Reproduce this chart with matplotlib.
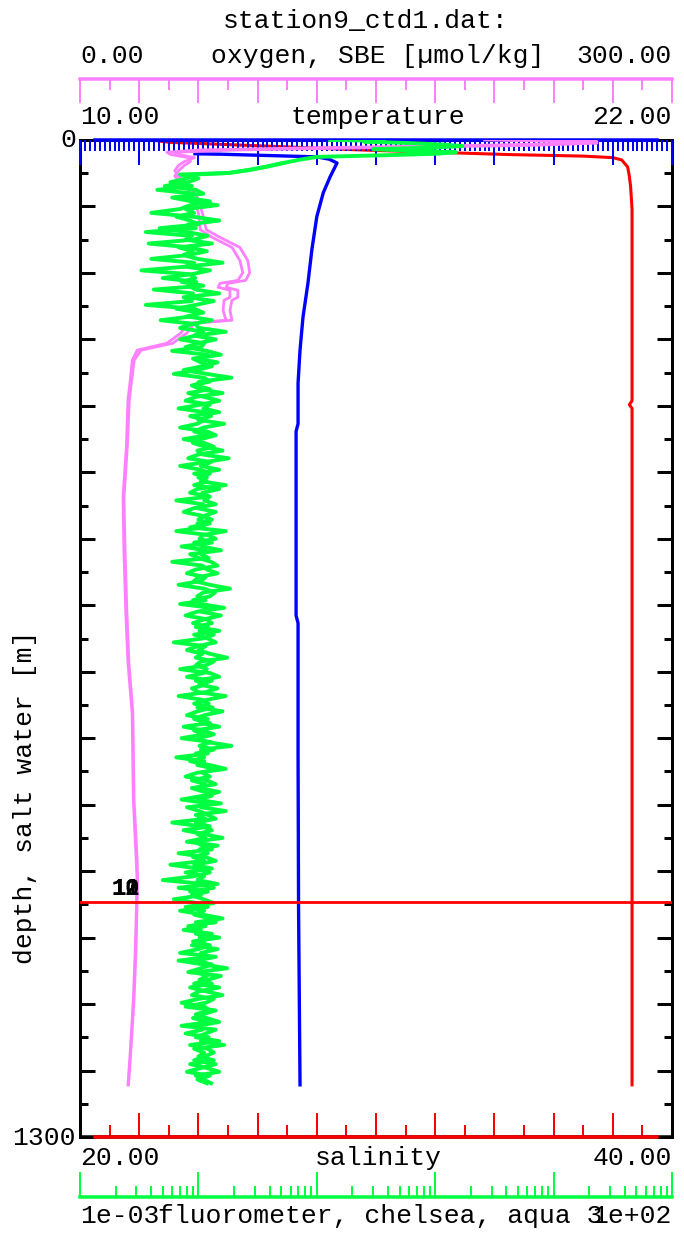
import numpy as np
import matplotlib
matplotlib.use('Agg')
import matplotlib.pyplot as plt
from matplotlib.ticker import FixedLocator, MultipleLocator, LogLocator, NullFormatter

plt.rcParams['font.family'] = ['Liberation Mono', 'DejaVu Sans Mono']

# ---------------- data ----------------
title = 'station9_ctd1.dat:'
oxy_label = 'oxygen, SBE [\u00b5mol/kg]'
temp_label = 'temperature'
sal_label = 'salinity'
fl_label = 'fluorometer, chelsea, aqua 3'
depth_label = 'depth, salt water [m]'
oxy_range = [0.0, 300.0]
temp_range = [10.0, 22.0]
sal_range = [20.0, 40.0]
fl_range = [1e-3, 1e2]
depth_range = [0, 1300]

sal_depth = [0, 3, 6, 9, 13, 16, 19, 21, 23, 26, 35, 45, 60, 90, 200, 340, 345, 350, 600, 900, 1232]
sal_vals = [22.4, 23.0, 25.0, 27.0, 29.5, 32.0, 34.5, 37.0, 38.0, 38.3, 38.5, 38.55, 38.6, 38.65,
            38.65, 38.65, 38.56, 38.65, 38.65, 38.65, 38.65]

temp_depth = [18, 18.5, 22, 25, 30, 48, 69, 100, 143, 187, 231, 274, 317, 370, 380, 620, 630, 800, 1000, 1232]
temp_vals = [12.33, 12.84, 14.8, 15.05, 15.21, 15.07, 14.93, 14.80, 14.70, 14.62, 14.52, 14.46, 14.42,
             14.42, 14.38, 14.38, 14.42, 14.42, 14.43, 14.46]

oxy_depth = [0, 2, 4, 7, 10, 13, 16, 19, 23, 28, 33, 40, 47, 55, 65, 78, 95, 117, 127, 140, 157, 173,
             183, 187, 192, 196, 205, 209, 222, 235, 239, 252, 265, 274, 287, 317, 339, 400, 466, 531,
             617, 682, 747, 860, 940, 965, 1056, 1121, 1187, 1232]
oxy_down = [205, 262, 258, 200, 120, 60, 44, 46, 55, 56, 53, 50, 48, 51, 55, 58, 60, 61, 67, 77, 81, 82.5,
            80, 71, 70, 76, 76, 73, 72.5, 74, 55, 51, 44, 29, 26.5, 25.3, 24.3, 23.5, 21.8, 22.2,
            23.2, 24.3, 26.4, 27, 28.5, 28.9, 28, 27, 25.5, 24.3]
oxy_up = [215, 255, 262, 230, 150, 80, 48, 50, 58, 53, 50, 48, 50, 53, 57, 60, 62, 64, 71, 81, 85, 86,
          84, 75, 74, 80, 80, 77, 76, 77, 58, 54, 47, 31, 27.5, 26, 25, 24, 22.3, 22.8,
          23.8, 24.8, 26.8, 27.4, 29, 29.2, 28.4, 27.4, 25.8, 24.6]

fl_surf_depth = [0, 1, 2, 4, 6, 8, 10, 12, 14, 16, 18, 20, 22, 26, 30, 35, 39, 43]
fl_surf_vals = [0.13, 0.37, 0.25, 0.6, 1.2, 1.7, 0.9, 0.3, 0.6, 1.5, 1.0, 0.35, 0.10, 0.07, 0.052,
                0.037, 0.027, 0.018]
fl_bin_start = 45   # first 5 m bin
fl_bin_step = 5
fl_down = [
    0.0095, 0.0080, 0.0058, 0.0088, 0.0045, 0.0092, 0.0078, 0.0125, 0.0085, 0.0070,
    0.0040, 0.0090, 0.0150, 0.0082, 0.0095, 0.0036, 0.0088, 0.0078, 0.0130, 0.0068,
    0.0090, 0.0075, 0.0098, 0.0160, 0.0080, 0.0033, 0.0085, 0.0094, 0.0072, 0.0110,
    0.0042, 0.0090, 0.0082, 0.0135, 0.0095, 0.0065, 0.0102, 0.0088, 0.0048, 0.0095,
    0.0100, 0.0170, 0.0095, 0.0070, 0.0112, 0.0105, 0.0060, 0.0120, 0.0098, 0.0145,
    0.0108, 0.0075, 0.0118, 0.0190, 0.0102, 0.0095, 0.0125, 0.0082, 0.0112, 0.0150,
    0.0105, 0.0068, 0.0115, 0.0128, 0.0100, 0.0165, 0.0110, 0.0092, 0.0120, 0.0075,
    0.0112, 0.0135, 0.0098, 0.0108, 0.0180, 0.0115, 0.0070, 0.0105, 0.0125, 0.0100,
    0.0118, 0.0092, 0.0150, 0.0108, 0.0122, 0.0065, 0.0110, 0.0098, 0.0140, 0.0112,
    0.0100, 0.0125, 0.0085, 0.0170, 0.0110, 0.0102, 0.0130, 0.0072, 0.0115, 0.0105,
    0.0122, 0.0060, 0.0108, 0.0118, 0.0145, 0.0100, 0.0092, 0.0125, 0.0185, 0.0110,
    0.0098, 0.0115, 0.0070, 0.0128, 0.0105, 0.0155, 0.0112, 0.0090, 0.0120, 0.0102,
    0.0135, 0.0108, 0.0062, 0.0115, 0.0100, 0.0125, 0.0175, 0.0105, 0.0095, 0.0118,
    0.0110, 0.0080, 0.0130, 0.0102, 0.0145, 0.0115, 0.0068, 0.0108, 0.0122, 0.0098,
    0.0160, 0.0112, 0.0092, 0.0125, 0.0075, 0.0110, 0.0135, 0.0100, 0.0118, 0.0190,
    0.0105, 0.0120, 0.0065, 0.0112, 0.0098, 0.0140, 0.0108, 0.0125, 0.0088, 0.0115,
    0.0100, 0.0150, 0.0110, 0.0072, 0.0122, 0.0105, 0.0170, 0.0095, 0.0115, 0.0060,
    0.0108, 0.0130, 0.0098, 0.0115, 0.0080, 0.0145, 0.0102, 0.0120, 0.0090, 0.0112,
    0.0058, 0.0100, 0.0125, 0.0092, 0.0050, 0.0110, 0.0135, 0.0085, 0.0105, 0.0062,
    0.0098, 0.0120, 0.0070, 0.0108, 0.0160, 0.0095, 0.0115, 0.0075, 0.0130, 0.0102,
    0.0112, 0.0088, 0.0145, 0.0105, 0.0122, 0.0068, 0.0110, 0.0175, 0.0098, 0.0118,
    0.0102, 0.0130, 0.0085, 0.0115, 0.0160, 0.0100, 0.0072, 0.0112, 0.0125, 0.0095,
    0.0118, 0.0150, 0.0098, 0.0108, 0.0078, 0.0122, 0.0105, 0.0165, 0.0092, 0.0112,
    0.0100, 0.0135, 0.0085, 0.0118, 0.0150, 0.0095, 0.0110, 0.0128,
]
fl_up = [
    0.0070, 0.0100, 0.0082, 0.0052, 0.0095, 0.0110, 0.0060, 0.0088, 0.0145, 0.0078,
    0.0092, 0.0065, 0.0085, 0.0100, 0.0047, 0.0080, 0.0120, 0.0090, 0.0038, 0.0085,
    0.0118, 0.0082, 0.0040, 0.0092, 0.0078, 0.0125, 0.0088, 0.0050, 0.0096, 0.0082,
    0.0095, 0.0150, 0.0075, 0.0088, 0.0036, 0.0092, 0.0110, 0.0080, 0.0130, 0.0088,
    0.0070, 0.0110, 0.0092, 0.0140, 0.0100, 0.0078, 0.0118, 0.0155, 0.0090, 0.0105,
    0.0130, 0.0098, 0.0062, 0.0112, 0.0125, 0.0088, 0.0105, 0.0160, 0.0095, 0.0078,
    0.0125, 0.0110, 0.0150, 0.0085, 0.0112, 0.0098, 0.0070, 0.0118, 0.0140, 0.0105,
    0.0090, 0.0115, 0.0160, 0.0100, 0.0082, 0.0128, 0.0105, 0.0150, 0.0092, 0.0118,
    0.0105, 0.0170, 0.0098, 0.0085, 0.0125, 0.0112, 0.0140, 0.0092, 0.0075, 0.0108,
    0.0130, 0.0098, 0.0112, 0.0065, 0.0120, 0.0140, 0.0092, 0.0108, 0.0155, 0.0085,
    0.0100, 0.0128, 0.0145, 0.0095, 0.0080, 0.0115, 0.0105, 0.0068, 0.0112, 0.0138,
    0.0125, 0.0090, 0.0105, 0.0165, 0.0098, 0.0078, 0.0118, 0.0130, 0.0095, 0.0150,
    0.0092, 0.0120, 0.0140, 0.0098, 0.0080, 0.0108, 0.0095, 0.0135, 0.0115, 0.0070,
    0.0125, 0.0150, 0.0095, 0.0115, 0.0088, 0.0100, 0.0170, 0.0118, 0.0092, 0.0132,
    0.0098, 0.0080, 0.0120, 0.0105, 0.0150, 0.0092, 0.0112, 0.0072, 0.0128, 0.0102,
    0.0135, 0.0095, 0.0112, 0.0085, 0.0125, 0.0170, 0.0098, 0.0078, 0.0118, 0.0140,
    0.0088, 0.0112, 0.0130, 0.0098, 0.0155, 0.0080, 0.0102, 0.0120, 0.0140, 0.0095,
    0.0125, 0.0075, 0.0112, 0.0160, 0.0092, 0.0108, 0.0130, 0.0068, 0.0115, 0.0140,
    0.0092, 0.0130, 0.0078, 0.0112, 0.0098, 0.0145, 0.0068, 0.0120, 0.0088, 0.0110,
    0.0135, 0.0078, 0.0112, 0.0092, 0.0125, 0.0140, 0.0082, 0.0105, 0.0095, 0.0150,
    0.0090, 0.0125, 0.0100, 0.0070, 0.0140, 0.0095, 0.0130, 0.0105, 0.0082, 0.0155,
    0.0120, 0.0092, 0.0150, 0.0102, 0.0088, 0.0135, 0.0115, 0.0078, 0.0140, 0.0108,
    0.0090, 0.0125, 0.0072, 0.0140, 0.0115, 0.0095, 0.0150, 0.0085, 0.0120, 0.0135,
    0.0112, 0.0092, 0.0140, 0.0105, 0.0080, 0.0125, 0.0098, 0.0118,
]

bottle_depth = 994
bottle_labels = ['10', '11', '12']

# ---------------- styles ----------------
RED = '#ff0000'
BLUE = '#0000ff'
PINK = '#ff80ff'
GREEN = '#00ff40'
W, H = 684, 1233
PX = 0.72  # points per pixel at dpi 100
FS = 19

fig = plt.figure(figsize=(W / 100, H / 100), dpi=100)
L, R, T, B = 80, 672, 140, 1137
ax = fig.add_axes([L / W, 1 - B / H, (R - L) / W, (B - T) / H])
axt = ax.twiny()
axo = ax.twiny()
axf = ax.twiny()

# main axes: salinity (bottom) + depth
ax.set_xlim(*sal_range)
ax.set_ylim(depth_range[1], depth_range[0])
ax.plot(sal_vals, sal_depth, color=RED, lw=2.2, zorder=2)
ax.xaxis.set_ticks_position('bottom')
ax.xaxis.set_major_locator(MultipleLocator(2))
ax.xaxis.set_minor_locator(MultipleLocator(1))
ax.tick_params(axis='x', which='major', direction='in', length=24 * PX, width=2 * PX,
               color=RED, bottom=True, top=False, labelbottom=False, labeltop=False)
ax.tick_params(axis='x', which='minor', direction='in', length=12 * PX, width=2 * PX,
               color=RED, bottom=True, top=False)
ax.yaxis.set_major_locator(MultipleLocator(1300 / 15))
ax.yaxis.set_minor_locator(MultipleLocator(1300 / 30))
ax.tick_params(axis='y', which='major', direction='in', length=15 * PX, width=3 * PX,
               color='black', left=True, right=True, labelleft=False, labelright=False)
ax.tick_params(axis='y', which='minor', direction='in', length=8 * PX, width=3 * PX,
               color='black', left=True, right=True)
for s in ['left', 'right', 'top']:
    ax.spines[s].set_color('black')
    ax.spines[s].set_linewidth(3 * PX)
ax.spines['bottom'].set_color(RED)
ax.spines['bottom'].set_linewidth(3.5 * PX)
ax.spines['bottom'].set_bounds(20.5, 39.5)
ax.plot([0, 1], [0, 0], transform=ax.transAxes, color='black', lw=3.5 * PX,
        clip_on=False, zorder=2.4, solid_capstyle='butt')

# temperature (top)
axt.set_xlim(*temp_range)
axt.plot(temp_vals, temp_depth, color=BLUE, lw=2.4)
axt.xaxis.set_ticks_position('top')
axt.xaxis.set_major_locator(FixedLocator(10 + 1.2 * np.arange(11)))
axt.xaxis.set_minor_locator(FixedLocator(10 + 0.1 * np.arange(121)))
axt.tick_params(axis='x', which='major', direction='in', length=25 * PX, width=2 * PX,
                color=BLUE, top=True, bottom=False, labeltop=False, labelbottom=False)
axt.tick_params(axis='x', which='minor', direction='in', length=11 * PX, width=2 * PX,
                color=BLUE, top=True, bottom=False)
for s in ['left', 'right', 'bottom']:
    axt.spines[s].set_visible(False)
axt.spines['top'].set_color(BLUE)
axt.spines['top'].set_linewidth(3.5 * PX)
axt.spines['top'].set_bounds(10.3, 21.7)

# oxygen (top, offset)
axo.set_xlim(*oxy_range)
axo.plot(oxy_down, oxy_depth, color=PINK, lw=2.0)
axo.plot(oxy_up, oxy_depth, color=PINK, lw=2.0)
axo.xaxis.set_ticks_position('top')
axo.spines['top'].set_position(('outward', 61 * PX))
axo.xaxis.set_major_locator(MultipleLocator(30))
axo.xaxis.set_minor_locator(MultipleLocator(15))
axo.tick_params(axis='x', which='major', direction='in', length=24 * PX, width=2 * PX,
                color=PINK, top=True, bottom=False, labeltop=False, labelbottom=False)
axo.tick_params(axis='x', which='minor', direction='in', length=11 * PX, width=2 * PX,
                color=PINK, top=True, bottom=False)
for s in ['left', 'right', 'bottom']:
    axo.spines[s].set_visible(False)
axo.spines['top'].set_color(PINK)
axo.spines['top'].set_linewidth(3.5 * PX)

# fluorometer (bottom, offset, log)
axf.set_xscale('log')
axf.set_xlim(*fl_range)
bins = [fl_bin_start + fl_bin_step * i for i in range(len(fl_down))]
axf.plot(list(fl_surf_vals) + list(fl_down), list(fl_surf_depth) + bins, color=GREEN, lw=2.8)
axf.plot(list(fl_surf_vals[-4:]) + list(fl_up), list(fl_surf_depth[-4:]) + bins, color=GREEN, lw=2.8)
axf.xaxis.set_ticks_position('bottom')
axf.spines['bottom'].set_position(('outward', 60 * PX))
axf.xaxis.set_major_locator(LogLocator(base=10, numticks=20))
axf.xaxis.set_minor_locator(LogLocator(base=10, subs=np.arange(2, 10), numticks=100))
axf.xaxis.set_minor_formatter(NullFormatter())
axf.tick_params(axis='x', which='major', direction='in', length=25 * PX, width=2 * PX,
                color=GREEN, bottom=True, top=False, labelbottom=False, labeltop=False)
axf.tick_params(axis='x', which='minor', direction='in', length=11 * PX, width=2 * PX,
                color=GREEN, bottom=True, top=False)
for s in ['left', 'right', 'top']:
    axf.spines[s].set_visible(False)
axf.spines['bottom'].set_visible(True)
axf.spines['bottom'].set_color(GREEN)
axf.spines['bottom'].set_linewidth(3.5 * PX)

# bottle line and labels
axf.axhline(bottle_depth, color=RED, lw=2.0, zorder=5)
for lab in bottle_labels:
    fig.text(111 / W, 1 - 895 / H, lab, ha='left', va='baseline', fontsize=17,
             fontweight='bold', color='black')

# ---------------- texts ----------------
def ftext(x, y, s, ha='center', **kw):
    fig.text(x / W, 1 - y / H, s, ha=ha, va='baseline', fontsize=FS, color='black', **kw)

ftext(366, 28, title)
ftext(80, 63, f'{oxy_range[0]:.2f}', ha='left')
ftext(378, 63, oxy_label)
ftext(672, 63, f'{oxy_range[1]:.2f}', ha='right')
ftext(80, 124, f'{temp_range[0]:.2f}', ha='left')
ftext(378, 124, temp_label)
ftext(672, 124, f'{temp_range[1]:.2f}', ha='right')
ftext(80, 1165, f'{sal_range[0]:.2f}', ha='left')
ftext(378, 1165, sal_label)
ftext(672, 1165, f'{sal_range[1]:.2f}', ha='right')
ftext(80, 1223, f'{fl_range[0]:.0e}', ha='left')
ftext(380, 1223, fl_label)
ftext(672, 1223, f'{fl_range[1]:.0e}', ha='right')
ftext(76, 147, f'{depth_range[0]}', ha='right')
ftext(76, 1145, f'{depth_range[1]}', ha='right')
fig.text(25 / W, 1 - 797 / H, depth_label, rotation=90, ha='center', va='center', fontsize=FS)

fig.savefig('out.png', dpi=100)
